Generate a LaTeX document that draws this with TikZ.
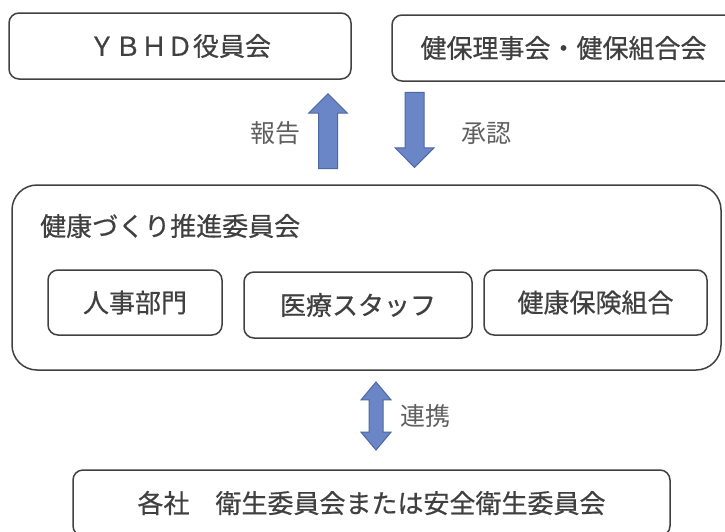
\documentclass[tikz,border=0pt]{standalone}
\usepackage{fontspec}
\setmainfont{Noto Sans CJK JP}
\newfontfamily\boxfont[FakeBold=0.6]{Noto Sans CJK JP}
\usetikzlibrary{shapes.arrows,positioning}
\definecolor{edge}{RGB}{64,64,64}
\definecolor{ink}{RGB}{64,64,64}
\definecolor{soft}{RGB}{95,95,95}
\definecolor{arrowfill}{RGB}{106,134,198}
\definecolor{arrowline}{RGB}{76,104,164}
\tikzset{
    box/.style={draw=edge,line width=1.5pt,rounded corners=10pt,text=ink,inner sep=0pt,font=\boxfont\fontsize{26}{26}\selectfont},
    frame/.style={draw=edge,line width=1.5pt,rounded corners=25pt},
    note/.style={text=soft,inner sep=0pt,font=\fontsize{25}{25}\selectfont},
    blk/.style={single arrow,draw=arrowline,fill=arrowfill,line width=1pt,inner sep=0pt,inner ysep=9pt,
        single arrow head extend=10pt,minimum height=75pt},
    dblk/.style={double arrow,draw=arrowline,fill=arrowfill,line width=1pt,inner sep=0pt,inner ysep=6.5pt,
        double arrow head extend=8pt,double arrow tip angle=80,minimum height=68pt}
}
\begin{document}
\begin{tikzpicture}[x=1pt,y=-1pt]
    \useasboundingbox (0,0) rectangle (725,531);

    % upper level
    \node[box,minimum width=342pt,minimum height=66pt] (ybhd)  at (180,46)    {ＹＢＨＤ役員会};
    \node[box,minimum width=343pt,minimum height=66pt] (kenpo) at (563.5,48)  {健保理事会・健保組合会};

    \node[blk,rotate=90,anchor=tip]  (report)  at (328,93)    {};
    \node[blk,rotate=-90,anchor=tip] (approve) at (414.5,168) {};
    \node[note] at (275,133) {報告};
    \node[note] at (486,133) {承認};

    % committee
    \node[frame,minimum width=709pt,minimum height=185pt] (committee) at (366.5,277.5) {};
    \node[text=ink,inner sep=0pt,anchor=west,font=\boxfont\fontsize{26}{26}\selectfont] (title) at (40,226) {健康づくり推進委員会};
    \node[box,minimum width=174pt,minimum height=65pt] (hr)     at (135,302.5)   {人事部門};
    \node[box,minimum width=228pt,minimum height=66pt] (staff)  at (358,305)     {医療スタッフ};
    \node[box,minimum width=223pt,minimum height=65pt] (union)  at (595.5,302.5) {健康保険組合};

    % companies
    \node[dblk,rotate=90] (link) at (376,416) {};
    \node[note,right=24pt of link.center] {連携};
    \node[box,minimum width=597pt,minimum height=66pt] (company) at (371.5,503) {各社　衛生委員会または安全衛生委員会};

\end{tikzpicture}
\end{document}
